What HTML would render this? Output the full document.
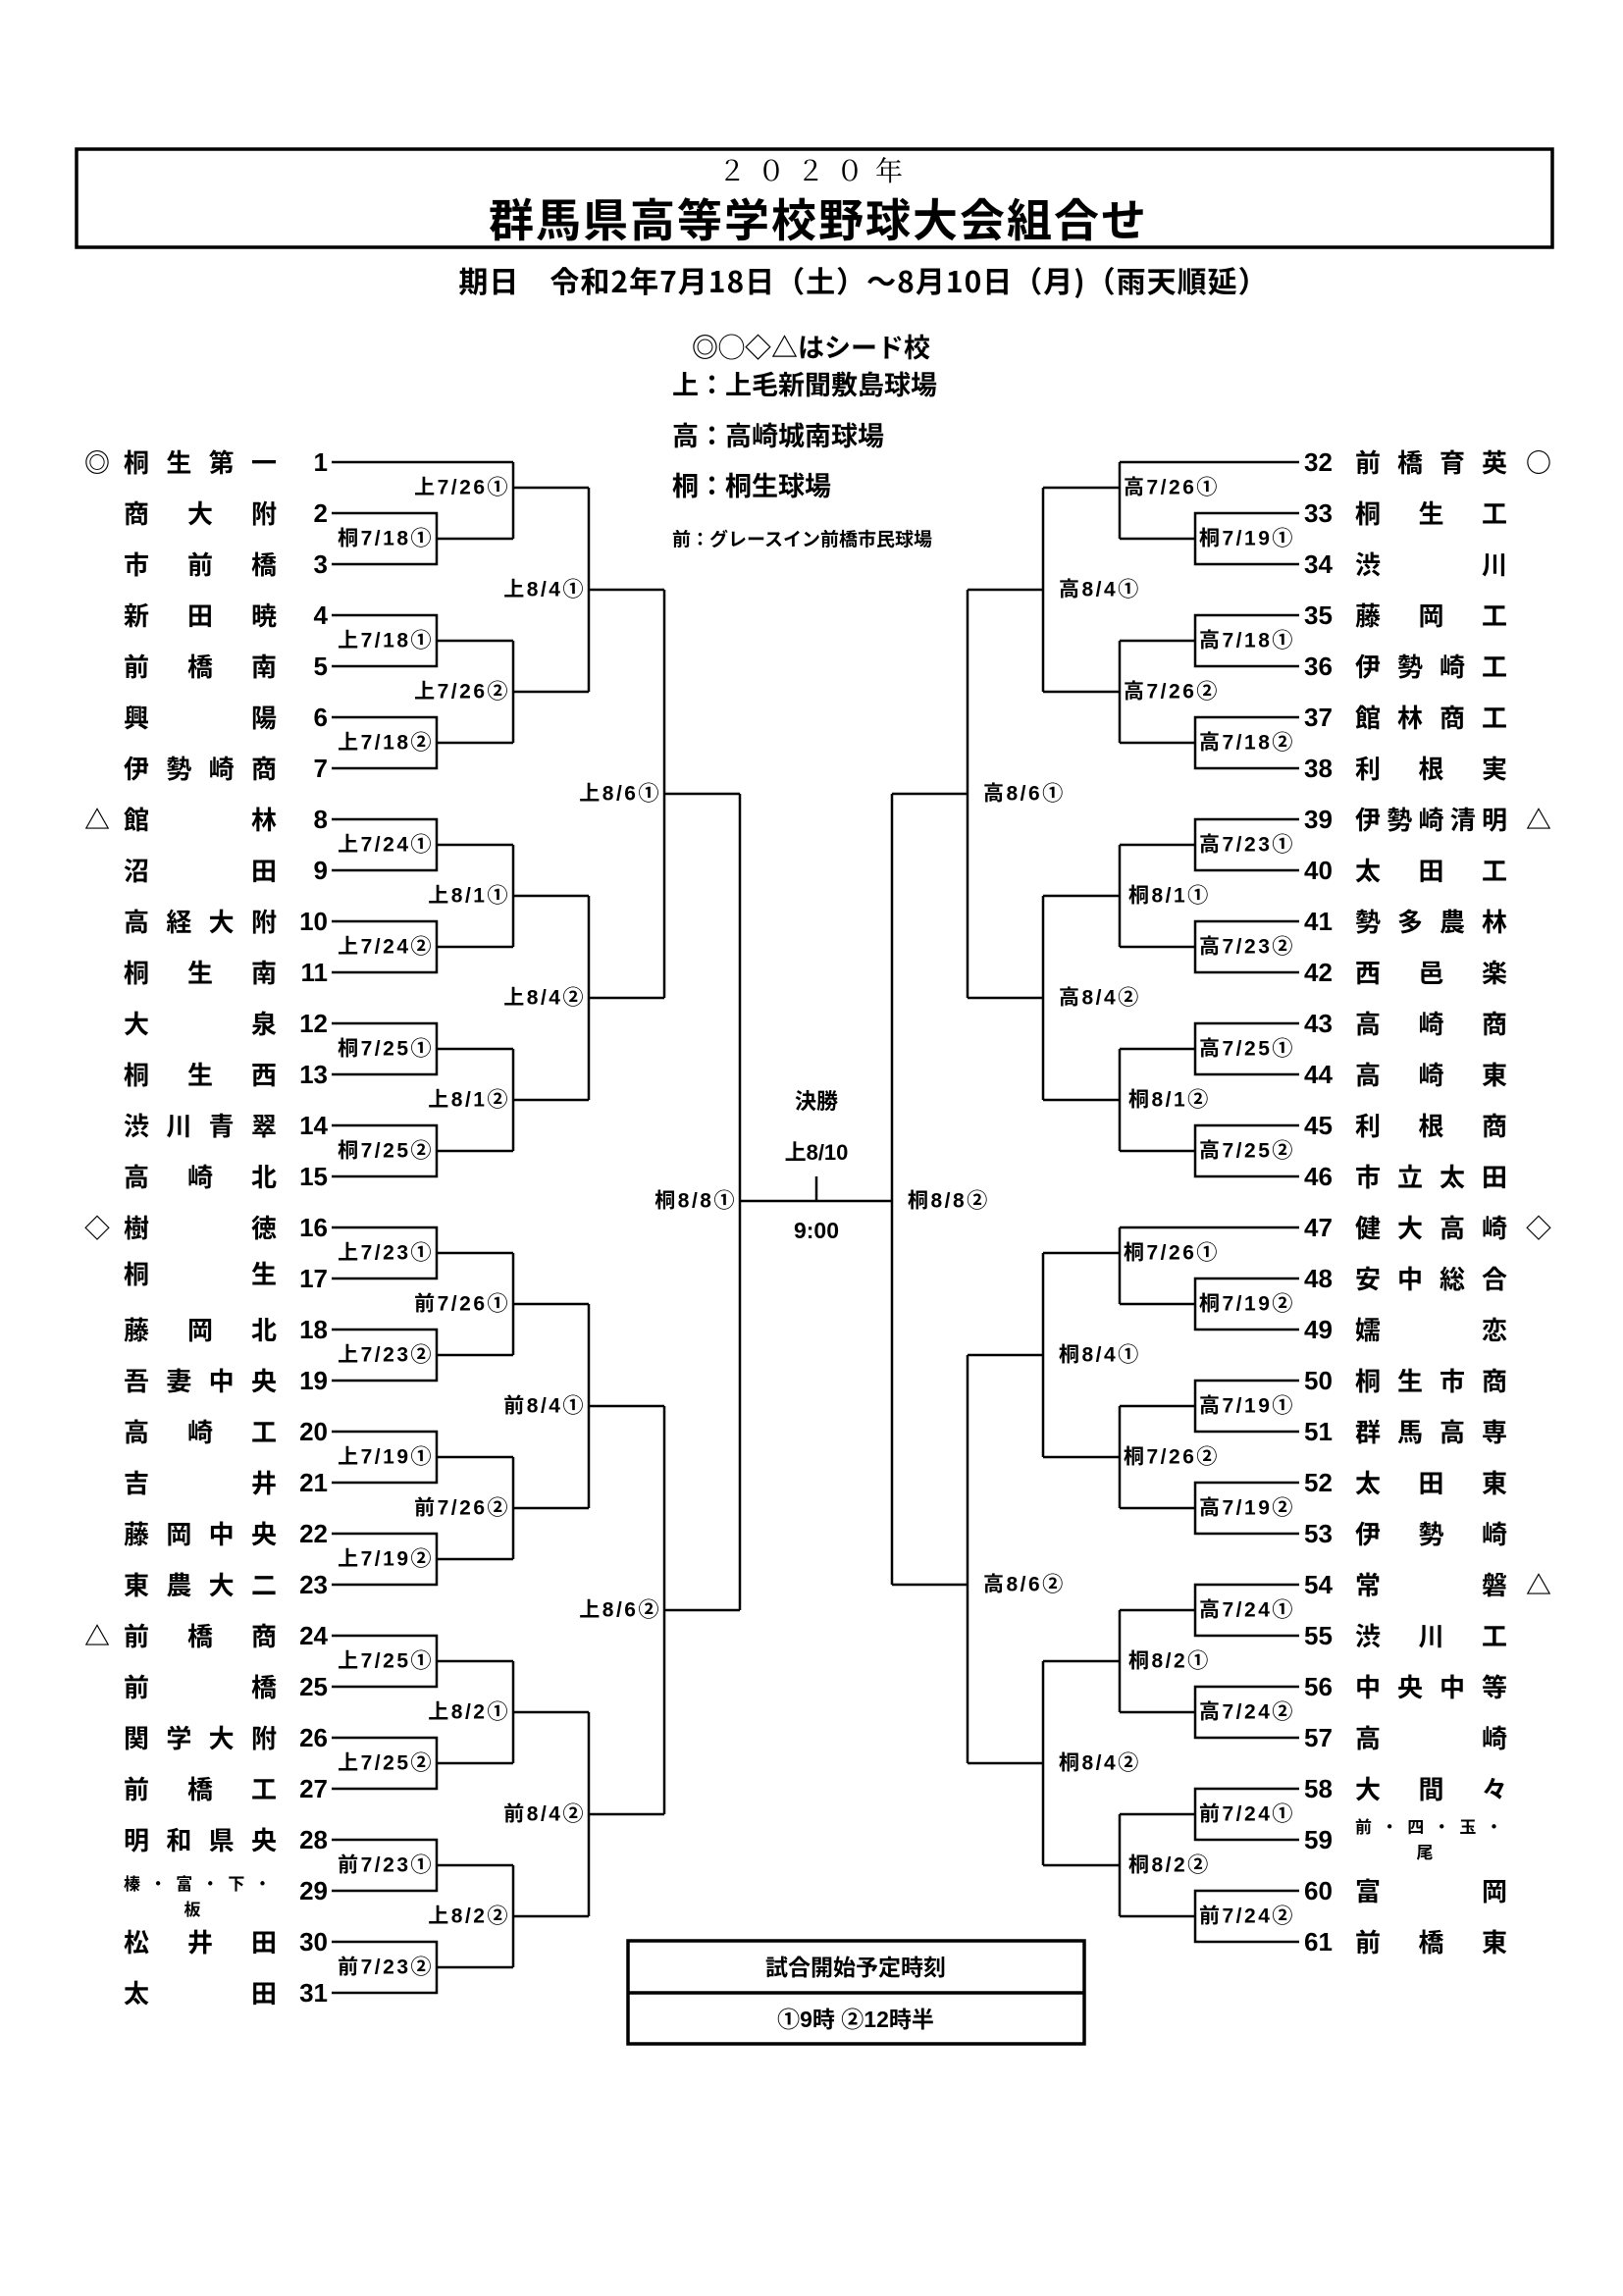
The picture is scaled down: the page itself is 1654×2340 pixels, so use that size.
<!DOCTYPE html>
<html><head><meta charset="utf-8"><style>
html,body{margin:0;padding:0;background:#fff;}
svg{display:block;}
text{font-family:"Liberation Sans","Noto Sans CJK JP",sans-serif;fill:#000;}
.n{font-size:26px;font-weight:bold;font-family:"Noto Sans CJK JP","Liberation Sans",sans-serif;}
.num{font-size:26px;font-weight:bold;}
.lb{font-size:21px;font-weight:bold;letter-spacing:2.5px;dominant-baseline:central;}
.lL{text-anchor:end;}
.mk{font-size:26px;font-weight:bold;text-anchor:middle;font-family:"Noto Sans CJK JP",sans-serif;}
.sm{font-size:17px;font-weight:bold;font-family:"Noto Sans CJK JP",sans-serif;}
.j{font-family:"Noto Sans CJK JP",sans-serif;font-weight:bold;}
</style></head><body>
<svg width="1654" height="2340" viewBox="0 0 1654 2340" xmlns="http://www.w3.org/2000/svg">
<rect x="78" y="152" width="1504" height="100" fill="none" stroke="#000" stroke-width="3.5"/>
<text x="832" y="184" text-anchor="middle" style="font-family:'Noto Serif CJK SC',serif;font-size:28px;letter-spacing:12px">２０２０年</text>
<text class="j" x="834" y="241" text-anchor="middle" style="font-size:46px;letter-spacing:2px">群馬県高等学校野球大会組合せ</text>
<text class="j" x="880" y="298" text-anchor="middle" style="font-size:30px;letter-spacing:1px">期日　令和2年7月18日（土）～8月10日（月)（雨天順延）</text>
<text class="j" x="705" y="364" style="font-size:27px">◎◯◇△はシード校</text>
<text class="j" x="685" y="402" style="font-size:27px">上：上毛新聞敷島球場</text>
<text class="j" x="685" y="454" style="font-size:27px">高：高崎城南球場</text>
<text class="j" x="685" y="505" style="font-size:27px">桐：桐生球場</text>
<text class="j" x="685" y="556" style="font-size:19px">前：グレースイン前橋市民球場</text>

<g fill="none" stroke="#000" stroke-width="2.5">
<path d="M338 471H523"/>
<path d="M338 523H445V575H338M445 549H523"/>
<path d="M338 627H445V679H338M445 653H523"/>
<path d="M338 731H445V783H338M445 757H523"/>
<path d="M338 835H445V887H338M445 861H523"/>
<path d="M338 939H445V991H338M445 965H523"/>
<path d="M338 1043H445V1095H338M445 1069H523"/>
<path d="M338 1147H445V1199H338M445 1173H523"/>
<path d="M338 1251H445V1303H338M445 1277H523"/>
<path d="M338 1355H445V1407H338M445 1381H523"/>
<path d="M338 1459H445V1511H338M445 1485H523"/>
<path d="M338 1563H445V1615H338M445 1589H523"/>
<path d="M338 1667H445V1719H338M445 1693H523"/>
<path d="M338 1771H445V1823H338M445 1797H523"/>
<path d="M338 1875H445V1927H338M445 1901H523"/>
<path d="M338 1979H445V2031H338M445 2005H523"/>
<path d="M523 471V549M523 497H600"/>
<path d="M523 653V757M523 705H600"/>
<path d="M523 861V965M523 913H600"/>
<path d="M523 1069V1173M523 1121H600"/>
<path d="M523 1277V1381M523 1329H600"/>
<path d="M523 1485V1589M523 1537H600"/>
<path d="M523 1693V1797M523 1745H600"/>
<path d="M523 1901V2005M523 1953H600"/>
<path d="M600 497V705M600 601H677"/>
<path d="M600 913V1121M600 1017H677"/>
<path d="M600 1329V1537M600 1433H677"/>
<path d="M600 1745V1953M600 1849H677"/>
<path d="M677 601V1017M677 809H754"/>
<path d="M677 1433V1849M677 1641H754"/>
<path d="M754 809V1641M754 1224H909M832 1199V1224"/>
<path d="M909 809V1615"/>
<path d="M1324 471H1141"/>
<path d="M1324 523H1218V575H1324M1218 549H1141"/>
<path d="M1324 627H1218V679H1324M1218 653H1141"/>
<path d="M1324 731H1218V783H1324M1218 757H1141"/>
<path d="M1324 835H1218V887H1324M1218 861H1141"/>
<path d="M1324 939H1218V991H1324M1218 965H1141"/>
<path d="M1324 1043H1218V1095H1324M1218 1069H1141"/>
<path d="M1324 1147H1218V1199H1324M1218 1173H1141"/>
<path d="M1324 1251H1141"/>
<path d="M1324 1303H1218V1355H1324M1218 1329H1141"/>
<path d="M1324 1407H1218V1459H1324M1218 1433H1141"/>
<path d="M1324 1511H1218V1563H1324M1218 1537H1141"/>
<path d="M1324 1615H1218V1667H1324M1218 1641H1141"/>
<path d="M1324 1719H1218V1771H1324M1218 1745H1141"/>
<path d="M1324 1823H1218V1875H1324M1218 1849H1141"/>
<path d="M1324 1927H1218V1979H1324M1218 1953H1141"/>
<path d="M1141 471V549M1141 497H1063"/>
<path d="M1141 653V757M1141 705H1063"/>
<path d="M1141 861V965M1141 913H1063"/>
<path d="M1141 1069V1173M1141 1121H1063"/>
<path d="M1141 1251V1329M1141 1277H1063"/>
<path d="M1141 1433V1537M1141 1485H1063"/>
<path d="M1141 1641V1745M1141 1693H1063"/>
<path d="M1141 1849V1953M1141 1901H1063"/>
<path d="M1063 497V705M1063 601H986"/>
<path d="M1063 913V1121M1063 1017H986"/>
<path d="M1063 1277V1485M1063 1381H986"/>
<path d="M1063 1693V1901M1063 1797H986"/>
<path d="M986 601V1017M986 809H909"/>
<path d="M986 1381V1797M986 1615H909"/>
</g>

<text class="lb lL" x="442" y="549">桐7/18①</text>
<text class="lb lL" x="442" y="653">上7/18①</text>
<text class="lb lL" x="442" y="757">上7/18②</text>
<text class="lb lL" x="442" y="861">上7/24①</text>
<text class="lb lL" x="442" y="965">上7/24②</text>
<text class="lb lL" x="442" y="1069">桐7/25①</text>
<text class="lb lL" x="442" y="1173">桐7/25②</text>
<text class="lb lL" x="442" y="1277">上7/23①</text>
<text class="lb lL" x="442" y="1381">上7/23②</text>
<text class="lb lL" x="442" y="1485">上7/19①</text>
<text class="lb lL" x="442" y="1589">上7/19②</text>
<text class="lb lL" x="442" y="1693">上7/25①</text>
<text class="lb lL" x="442" y="1797">上7/25②</text>
<text class="lb lL" x="442" y="1901">前7/23①</text>
<text class="lb lL" x="442" y="2005">前7/23②</text>
<text class="lb lL" x="520" y="497">上7/26①</text>
<text class="lb lL" x="520" y="705">上7/26②</text>
<text class="lb lL" x="520" y="913">上8/1①</text>
<text class="lb lL" x="520" y="1121">上8/1②</text>
<text class="lb lL" x="520" y="1329">前7/26①</text>
<text class="lb lL" x="520" y="1537">前7/26②</text>
<text class="lb lL" x="520" y="1745">上8/2①</text>
<text class="lb lL" x="520" y="1953">上8/2②</text>
<text class="lb lL" x="597" y="601">上8/4①</text>
<text class="lb lL" x="597" y="1017">上8/4②</text>
<text class="lb lL" x="597" y="1433">前8/4①</text>
<text class="lb lL" x="597" y="1849">前8/4②</text>
<text class="lb lL" x="674" y="809">上8/6①</text>
<text class="lb lL" x="674" y="1641">上8/6②</text>
<text class="lb lL" x="751" y="1224">桐8/8①</text>

<text class="lb" x="1222" y="549">桐7/19①</text>
<text class="lb" x="1222" y="653">高7/18①</text>
<text class="lb" x="1222" y="757">高7/18②</text>
<text class="lb" x="1222" y="861">高7/23①</text>
<text class="lb" x="1222" y="965">高7/23②</text>
<text class="lb" x="1222" y="1069">高7/25①</text>
<text class="lb" x="1222" y="1173">高7/25②</text>
<text class="lb" x="1222" y="1329">桐7/19②</text>
<text class="lb" x="1222" y="1433">高7/19①</text>
<text class="lb" x="1222" y="1537">高7/19②</text>
<text class="lb" x="1222" y="1641">高7/24①</text>
<text class="lb" x="1222" y="1745">高7/24②</text>
<text class="lb" x="1222" y="1849">前7/24①</text>
<text class="lb" x="1222" y="1953">前7/24②</text>
<text class="lb" x="1145" y="497">高7/26①</text>
<text class="lb" x="1145" y="705">高7/26②</text>
<text class="lb" x="1150" y="913">桐8/1①</text>
<text class="lb" x="1150" y="1121">桐8/1②</text>
<text class="lb" x="1145" y="1277">桐7/26①</text>
<text class="lb" x="1145" y="1485">桐7/26②</text>
<text class="lb" x="1150" y="1693">桐8/2①</text>
<text class="lb" x="1150" y="1901">桐8/2②</text>
<text class="lb" x="1079" y="601">高8/4①</text>
<text class="lb" x="1079" y="1017">高8/4②</text>
<text class="lb" x="1079" y="1381">桐8/4①</text>
<text class="lb" x="1079" y="1797">桐8/4②</text>
<text class="lb" x="1002" y="809">高8/6①</text>
<text class="lb" x="1002" y="1615">高8/6②</text>
<text class="lb" x="925" y="1224">桐8/8②</text>

<text x="832" y="1130" text-anchor="middle" style="font-size:22px;font-weight:bold">決勝</text>
<text x="832" y="1182" text-anchor="middle" style="font-size:22px;font-weight:bold">上8/10</text>
<text x="832" y="1262" text-anchor="middle" style="font-size:23px;font-weight:bold">9:00</text>

<g text-anchor="end">
<text class="num" x="334" y="480">1</text><text class="num" x="334" y="532">2</text><text class="num" x="334" y="584">3</text><text class="num" x="334" y="636">4</text><text class="num" x="334" y="688">5</text><text class="num" x="334" y="740">6</text><text class="num" x="334" y="792">7</text><text class="num" x="334" y="844">8</text><text class="num" x="334" y="896">9</text><text class="num" x="334" y="948">10</text><text class="num" x="334" y="1000">11</text><text class="num" x="334" y="1052">12</text><text class="num" x="334" y="1104">13</text><text class="num" x="334" y="1156">14</text><text class="num" x="334" y="1208">15</text><text class="num" x="334" y="1260">16</text><text class="num" x="334" y="1312">17</text><text class="num" x="334" y="1364">18</text><text class="num" x="334" y="1416">19</text><text class="num" x="334" y="1468">20</text><text class="num" x="334" y="1520">21</text><text class="num" x="334" y="1572">22</text><text class="num" x="334" y="1624">23</text><text class="num" x="334" y="1676">24</text><text class="num" x="334" y="1728">25</text><text class="num" x="334" y="1780">26</text><text class="num" x="334" y="1832">27</text><text class="num" x="334" y="1884">28</text><text class="num" x="334" y="1936">29</text><text class="num" x="334" y="1988">30</text><text class="num" x="334" y="2040">31</text>
</g>
<g>
<text class="num" x="1329" y="480">32</text><text class="num" x="1329" y="532">33</text><text class="num" x="1329" y="584">34</text><text class="num" x="1329" y="636">35</text><text class="num" x="1329" y="688">36</text><text class="num" x="1329" y="740">37</text><text class="num" x="1329" y="792">38</text><text class="num" x="1329" y="844">39</text><text class="num" x="1329" y="896">40</text><text class="num" x="1329" y="948">41</text><text class="num" x="1329" y="1000">42</text><text class="num" x="1329" y="1052">43</text><text class="num" x="1329" y="1104">44</text><text class="num" x="1329" y="1156">45</text><text class="num" x="1329" y="1208">46</text><text class="num" x="1329" y="1260">47</text><text class="num" x="1329" y="1312">48</text><text class="num" x="1329" y="1364">49</text><text class="num" x="1329" y="1416">50</text><text class="num" x="1329" y="1468">51</text><text class="num" x="1329" y="1520">52</text><text class="num" x="1329" y="1572">53</text><text class="num" x="1329" y="1624">54</text><text class="num" x="1329" y="1676">55</text><text class="num" x="1329" y="1728">56</text><text class="num" x="1329" y="1780">57</text><text class="num" x="1329" y="1832">58</text><text class="num" x="1329" y="1884">59</text><text class="num" x="1329" y="1936">60</text><text class="num" x="1329" y="1988">61</text>
</g>

<g>
<text class="n" x="126" y="481" textLength="156" lengthAdjust="spacing">桐生第一</text>
<text class="n" x="126" y="533" textLength="156" lengthAdjust="spacing">商大附</text>
<text class="n" x="126" y="585" textLength="156" lengthAdjust="spacing">市前橋</text>
<text class="n" x="126" y="637" textLength="156" lengthAdjust="spacing">新田暁</text>
<text class="n" x="126" y="689" textLength="156" lengthAdjust="spacing">前橋南</text>
<text class="n" x="126" y="741" textLength="156" lengthAdjust="spacing">興陽</text>
<text class="n" x="126" y="793" textLength="156" lengthAdjust="spacing">伊勢崎商</text>
<text class="n" x="126" y="845" textLength="156" lengthAdjust="spacing">館林</text>
<text class="n" x="126" y="897" textLength="156" lengthAdjust="spacing">沼田</text>
<text class="n" x="126" y="949" textLength="156" lengthAdjust="spacing">高経大附</text>
<text class="n" x="126" y="1001" textLength="156" lengthAdjust="spacing">桐生南</text>
<text class="n" x="126" y="1053" textLength="156" lengthAdjust="spacing">大泉</text>
<text class="n" x="126" y="1105" textLength="156" lengthAdjust="spacing">桐生西</text>
<text class="n" x="126" y="1157" textLength="156" lengthAdjust="spacing">渋川青翠</text>
<text class="n" x="126" y="1209" textLength="156" lengthAdjust="spacing">高崎北</text>
<text class="n" x="126" y="1261" textLength="156" lengthAdjust="spacing">樹徳</text>
<text class="n" x="126" y="1308" textLength="156" lengthAdjust="spacing">桐生</text>
<text class="n" x="126" y="1365" textLength="156" lengthAdjust="spacing">藤岡北</text>
<text class="n" x="126" y="1417" textLength="156" lengthAdjust="spacing">吾妻中央</text>
<text class="n" x="126" y="1469" textLength="156" lengthAdjust="spacing">高崎工</text>
<text class="n" x="126" y="1521" textLength="156" lengthAdjust="spacing">吉井</text>
<text class="n" x="126" y="1573" textLength="156" lengthAdjust="spacing">藤岡中央</text>
<text class="n" x="126" y="1625" textLength="156" lengthAdjust="spacing">東農大二</text>
<text class="n" x="126" y="1677" textLength="156" lengthAdjust="spacing">前橋商</text>
<text class="n" x="126" y="1729" textLength="156" lengthAdjust="spacing">前橋</text>
<text class="n" x="126" y="1781" textLength="156" lengthAdjust="spacing">関学大附</text>
<text class="n" x="126" y="1833" textLength="156" lengthAdjust="spacing">前橋工</text>
<text class="n" x="126" y="1885" textLength="156" lengthAdjust="spacing">明和県央</text>
<text class="sm" x="126" y="1926" textLength="150" lengthAdjust="spacing">榛・富・下・</text>
<text class="sm" x="196" y="1952" text-anchor="middle">板</text>
<text class="n" x="126" y="1989" textLength="156" lengthAdjust="spacing">松井田</text>
<text class="n" x="126" y="2041" textLength="156" lengthAdjust="spacing">太田</text>
</g>
<g>
<text class="n" x="1381" y="481" textLength="155" lengthAdjust="spacing">前橋育英</text>
<text class="n" x="1381" y="533" textLength="155" lengthAdjust="spacing">桐生工</text>
<text class="n" x="1381" y="585" textLength="155" lengthAdjust="spacing">渋川</text>
<text class="n" x="1381" y="637" textLength="155" lengthAdjust="spacing">藤岡工</text>
<text class="n" x="1381" y="689" textLength="155" lengthAdjust="spacing">伊勢崎工</text>
<text class="n" x="1381" y="741" textLength="155" lengthAdjust="spacing">館林商工</text>
<text class="n" x="1381" y="793" textLength="155" lengthAdjust="spacing">利根実</text>
<text class="n" x="1381" y="845" textLength="155" lengthAdjust="spacing">伊勢崎清明</text>
<text class="n" x="1381" y="897" textLength="155" lengthAdjust="spacing">太田工</text>
<text class="n" x="1381" y="949" textLength="155" lengthAdjust="spacing">勢多農林</text>
<text class="n" x="1381" y="1001" textLength="155" lengthAdjust="spacing">西邑楽</text>
<text class="n" x="1381" y="1053" textLength="155" lengthAdjust="spacing">高崎商</text>
<text class="n" x="1381" y="1105" textLength="155" lengthAdjust="spacing">高崎東</text>
<text class="n" x="1381" y="1157" textLength="155" lengthAdjust="spacing">利根商</text>
<text class="n" x="1381" y="1209" textLength="155" lengthAdjust="spacing">市立太田</text>
<text class="n" x="1381" y="1261" textLength="155" lengthAdjust="spacing">健大高崎</text>
<text class="n" x="1381" y="1313" textLength="155" lengthAdjust="spacing">安中総合</text>
<text class="n" x="1381" y="1365" textLength="155" lengthAdjust="spacing">嬬恋</text>
<text class="n" x="1381" y="1417" textLength="155" lengthAdjust="spacing">桐生市商</text>
<text class="n" x="1381" y="1469" textLength="155" lengthAdjust="spacing">群馬高専</text>
<text class="n" x="1381" y="1521" textLength="155" lengthAdjust="spacing">太田東</text>
<text class="n" x="1381" y="1573" textLength="155" lengthAdjust="spacing">伊勢崎</text>
<text class="n" x="1381" y="1625" textLength="155" lengthAdjust="spacing">常磐</text>
<text class="n" x="1381" y="1677" textLength="155" lengthAdjust="spacing">渋川工</text>
<text class="n" x="1381" y="1729" textLength="155" lengthAdjust="spacing">中央中等</text>
<text class="n" x="1381" y="1781" textLength="155" lengthAdjust="spacing">高崎</text>
<text class="n" x="1381" y="1833" textLength="155" lengthAdjust="spacing">大間々</text>
<text class="sm" x="1381" y="1868" textLength="150" lengthAdjust="spacing">前・四・玉・</text>
<text class="sm" x="1452" y="1894" text-anchor="middle">尾</text>
<text class="n" x="1381" y="1937" textLength="155" lengthAdjust="spacing">富岡</text>
<text class="n" x="1381" y="1989" textLength="155" lengthAdjust="spacing">前橋東</text>
</g>
<text class="mk" x="99" y="481">◎</text>
<text class="mk" x="99" y="845">△</text>
<text class="mk" x="99" y="1261">◇</text>
<text class="mk" x="99" y="1677">△</text>
<text class="mk" x="1568" y="481">○</text>
<text class="mk" x="1568" y="845">△</text>
<text class="mk" x="1568" y="1261">◇</text>
<text class="mk" x="1568" y="1625">△</text>

<rect x="640" y="1978" width="465" height="105" fill="none" stroke="#000" stroke-width="3.5"/>
<line x1="640" y1="2031" x2="1105" y2="2031" stroke="#000" stroke-width="3.5"/>
<text x="872" y="2013" text-anchor="middle" style="font-size:23px;font-weight:bold">試合開始予定時刻</text>
<text x="872" y="2066" text-anchor="middle" style="font-size:23px;font-weight:bold">①9時 ②12時半</text>
</svg>
</body></html>
